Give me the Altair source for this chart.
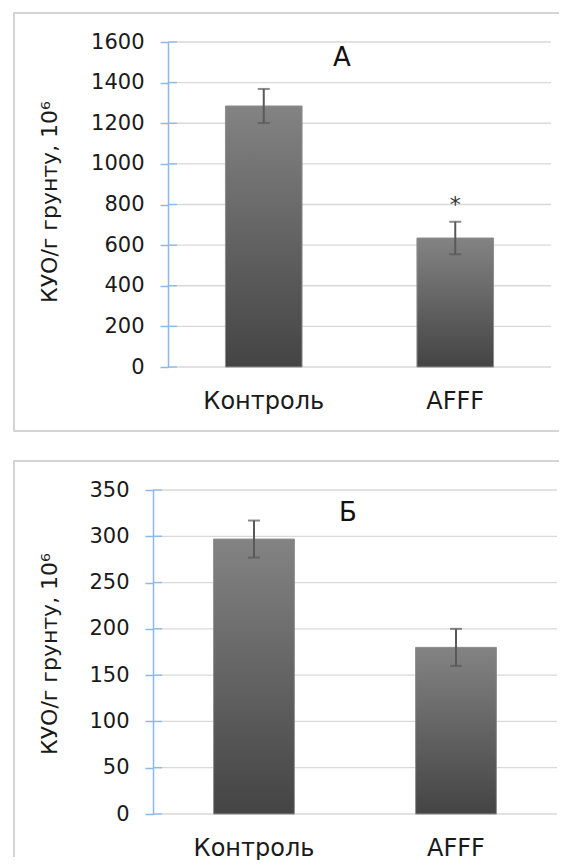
import altair as alt
import pandas as pd

# ---- data ----
groups = ["Контроль", "AFFF"]
a_mean = [1285, 635]
a_err = [84, 80]
a_sig = ["", "*"]
b_mean = [297, 180]
b_err = [20, 20]
b_sig = ["", ""]
a_ticks = [0, 200, 400, 600, 800, 1000, 1200, 1400, 1600]
b_ticks = [0, 50, 100, 150, 200, 250, 300, 350]
y_title = "КУО/г грунту, 10⁶"
panel_letters = ["А", "Б"]

FONT = "DejaVu Sans"
BLUE = "#8db9e8"
GRID = "#d9d9d9"
FRAME = "#d4d4d4"
TXT = "#1a1a1a"
ERR = "#595959"

bar_fill = alt.Gradient(
    gradient="linear",
    stops=[alt.GradientStop(color="#838383", offset=0),
           alt.GradientStop(color="#444444", offset=1)],
    x1=0, x2=0, y1=0, y2=1,
)


def panel(mean, err, sig, ticks, ymax, letter, W, H, x0, letter_x, letter_y,
          title_y, frame_bottom, left_bottom):
    df = pd.DataFrame({
        "g": groups,
        "m": mean,
        "lo": [m - e for m, e in zip(mean, err)],
        "hi": [m + e for m, e in zip(mean, err)],
        "sig": sig,
    })
    tdf = pd.DataFrame({"t": ticks})
    one = pd.DataFrame({"L": [letter], "T": [y_title]})

    yscale = alt.Scale(domain=[0, ymax], nice=False, zero=True)
    yaxis = alt.Axis(values=ticks, grid=False, title=None, format="d",
                     domainColor=BLUE, domainWidth=1.5,
                     tickColor=BLUE, tickWidth=1.5, tickSize=8,
                     labelFont=FONT, labelFontSize=21, labelColor=TXT,
                     labelPadding=16, offset=-x0)
    xaxis = alt.Axis(title=None, domain=False, ticks=False, tickSize=0,
                     labelFont=FONT, labelFontSize=24, labelColor=TXT,
                     labelAngle=0, labelBaseline="alphabetic", labelPadding=41)
    xenc = alt.X("g:N", sort=groups, axis=xaxis,
                 scale=alt.Scale(range=[x0, W], paddingInner=0.6, paddingOuter=0.3))

    grid = alt.Chart(tdf).mark_rule(color=GRID, strokeWidth=1.3).encode(
        y=alt.Y("t:Q", scale=yscale, axis=yaxis),
        x=alt.value(x0 + 9), x2=alt.value(W))
    inner_tick = alt.Chart(tdf).mark_rule(color=BLUE, strokeWidth=1.5).encode(
        y=alt.Y("t:Q", scale=yscale, axis=yaxis),
        x=alt.value(x0), x2=alt.value(x0 + 9))

    base = alt.Chart(df)
    bars = base.mark_bar(fill=bar_fill, stroke="#8e8e8e", strokeWidth=1).encode(
        x=xenc, y=alt.Y("m:Q", scale=yscale, axis=yaxis))
    errs = base.mark_rule(color=ERR, strokeWidth=2).encode(
        x=xenc, y=alt.Y("lo:Q", scale=yscale, axis=yaxis), y2="hi:Q")
    cap_hi = base.mark_tick(color=ERR, thickness=2, size=12).encode(
        x=xenc, y=alt.Y("hi:Q", scale=yscale, axis=yaxis))
    cap_lo = base.mark_tick(color=ERR, thickness=2, size=12).encode(
        x=xenc, y=alt.Y("lo:Q", scale=yscale, axis=yaxis))
    star = base.mark_text(font=FONT, fontSize=22, color="#333333",
                          baseline="alphabetic", dy=-10).encode(
        x=xenc, y=alt.Y("hi:Q", scale=yscale, axis=yaxis), text="sig:N")

    letter_mark = alt.Chart(one).mark_text(
        font=FONT, fontSize=26, color="#111111", align="center",
        baseline="alphabetic").encode(
        x=alt.value(letter_x), y=alt.value(letter_y), text="L:N")
    ytitle = alt.Chart(one).mark_text(
        font=FONT, fontSize=22, color=TXT, angle=270, align="center",
        baseline="middle").encode(
        x=alt.value(-103), y=alt.value(title_y), text="T:N")

    # frame (top, left and optional bottom edges as thin filled rects)
    fr_top = alt.Chart(one).mark_rect(fill=FRAME).encode(
        x=alt.value(-140), x2=alt.value(406), y=alt.value(-30), y2=alt.value(-28))
    fr_left = alt.Chart(one).mark_rect(fill=FRAME).encode(
        x=alt.value(-140), x2=alt.value(-138), y=alt.value(-30), y2=alt.value(left_bottom))
    layers = [fr_top, fr_left]
    if frame_bottom is not None:
        fr_bot = alt.Chart(one).mark_rect(fill=FRAME).encode(
            x=alt.value(-140), x2=alt.value(406),
            y=alt.value(frame_bottom - 1), y2=alt.value(frame_bottom + 1))
        layers.append(fr_bot)

    return alt.layer(grid, inner_tick, bars, errs, cap_hi, cap_lo, star,
                     letter_mark, ytitle, *layers).properties(width=W, height=H)


top = panel(a_mean, a_err, a_sig, a_ticks, 1600, panel_letters[0],
            W=398, H=325, x0=15, letter_x=189, letter_y=24, title_y=160,
            frame_bottom=389, left_bottom=389)
bottom = panel(b_mean, b_err, b_sig, b_ticks, 350, panel_letters[1],
               W=404, H=324, x0=0, letter_x=195, letter_y=31, title_y=164,
               frame_bottom=None, left_bottom=367)

chart = alt.vconcat(top, bottom, spacing=28).configure_view(stroke=None).properties(
    padding={"left": 5, "top": 4, "right": 0, "bottom": 0})

chart.save("out.html", embed_options={"renderer": "svg", "actions": False})
